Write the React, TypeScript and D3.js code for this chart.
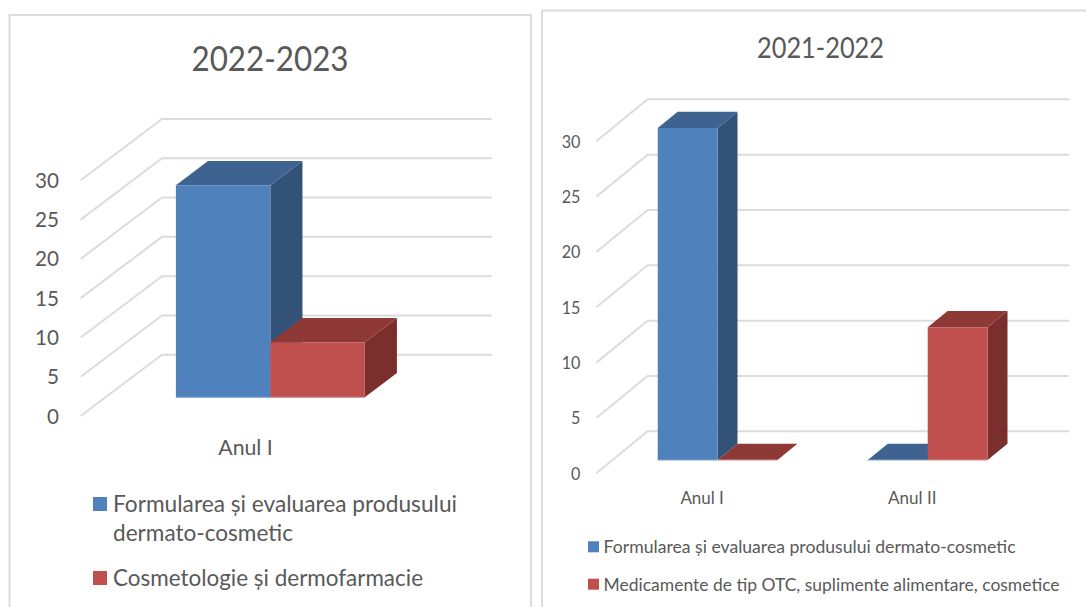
import React from "react";
import * as d3 from "d3";

// ---------- data ----------
const ticks = [0, 5, 10, 15, 20, 25, 30];

const leftTitle = "2022-2023";
const leftCategories = ["Anul I"];
const leftSeriesNames = ["Formularea și evaluarea produsului dermato-cosmetic", "Cosmetologie și dermofarmacie"];
const leftBlue = [27];
const leftRed = [7];

const rightTitle = "2021-2022";
const rightCategories = ["Anul I", "Anul II"];
const rightSeriesNames = ["Formularea și evaluarea produsului dermato-cosmetic", "Medicamente de tip OTC, suplimente alimentare, cosmetice"];
const rightBlue = [30, 0];
const rightRed = [0, 12];

// ---------- style ----------
const FONT = "Lato, 'Open Sans', sans-serif";
const TEXT = "#595959";
const GRID = "#dcdcdc";
const BLUE = { front: "#4f81bd", top: "#3e6390", side: "#335278", edge: "#7ea3d0" };
const RED = { front: "#c0504d", top: "#8f3937", side: "#7b2f2d", edge: "#d58f8d" };

type LegendRow = { swatchY: number; lines: { text: string; baseline: number; width: number }[] };
type Cfg = {
  title: string; titleX: number; titleY: number; titleSize: number; titleW: number;
  categories: string[]; blue: number[]; red: number[];
  x0: number; x1: number; bandX1: number; y0: number; y30: number; dx: number; dy: number;
  z0: number; z1: number; gap: number;
  tickX: number; tickSize: number; tickDy: number; tickW: number;
  catY: number; catSize: number; catWidths: number[]; catShift: number;
  legendSize: number; swatchX: number; swatchS: number; legendX: number; legend: LegendRow[];
};

const leftCfg: Cfg = {
  title: leftTitle, titleX: 270, titleY: 70.5, titleSize: 35, titleW: 157,
  categories: leftCategories, blue: leftBlue, red: leftRed,
  x0: 80.7, x1: 410.4, bandX1: 410.4, y0: 416, y30: 180.3, dx: 81.3, dy: 61.3,
  z0: 0.305, z1: 0.7, gap: 0.427,
  tickX: 59, tickSize: 22, tickDy: 7.5, tickW: 24,
  catY: 454.7, catSize: 21.5, catWidths: [54.5], catShift: 0,
  legendSize: 22.5, swatchX: 93, swatchS: 14, legendX: 113,
  legend: [
    { swatchY: 497, lines: [
      { text: "Formularea și evaluarea produsului", baseline: 511.7, width: 344 },
      { text: "dermato-cosmetic", baseline: 541, width: 180 },
    ] },
    { swatchY: 571, lines: [{ text: leftSeriesNames[1], baseline: 585.7, width: 310 }] },
  ],
};

const rightCfg: Cfg = {
  title: rightTitle, titleX: 820.5, titleY: 58.3, titleSize: 28, titleW: 127,
  categories: rightCategories, blue: rightBlue, red: rightRed,
  x0: 596.3, x1: 1018, bandX1: 1016.5, y0: 473.3, y30: 141.3, dx: 51.3, dy: 42,
  z0: 0.317, z1: 0.705, gap: 0.43,
  tickX: 580.4, tickSize: 18, tickDy: 6.2, tickW: 18.7,
  catY: 504, catSize: 17, catWidths: [43.5, 48.5], catShift: 0.8,
  legendSize: 17.5, swatchX: 588, swatchS: 11, legendX: 603.6,
  legend: [
    { swatchY: 541.3, lines: [{ text: rightSeriesNames[0], baseline: 553, width: 412 }] },
    { swatchY: 578.7, lines: [{ text: rightSeriesNames[1], baseline: 590.7, width: 456 }] },
  ],
};

function Chart3D({ c }: { c: Cfg }) {
  const y = d3.scaleLinear().domain([0, 30]).range([c.y0, c.y30]);
  const band = d3.scaleBand<string>().domain(c.categories).range([c.x0, c.bandX1])
    .paddingInner(c.gap).paddingOuter(c.gap / 2);
  const sub = d3.scaleBand<string>().domain(["blue", "red"]).range([0, band.bandwidth()]);

  const pt = (x: number, v: number, z: number): [number, number] => [x + z * c.dx, y(v) - z * c.dy];
  const poly = (pts: [number, number][]) => pts.map((p) => p.join(",")).join(" ");
  const line = d3.line();

  const bar = (cat: string, key: string, v: number, col: typeof BLUE) => {
    const xa = (band(cat) as number) + (sub(key) as number);
    const xb = xa + sub.bandwidth();
    const { z0, z1 } = c;
    return (
      <g key={cat + key}>
        {v > 0 && <polygon points={poly([pt(xb, 0, z0), pt(xb, 0, z1), pt(xb, v, z1), pt(xb, v, z0)])} fill={col.side} />}
        <polygon points={poly([pt(xa, v, z0), pt(xb, v, z0), pt(xb, v, z1), pt(xa, v, z1)])} fill={col.top} />
        {v > 0 && <polygon points={poly([pt(xa, 0, z0), pt(xb, 0, z0), pt(xb, v, z0), pt(xa, v, z0)])} fill={col.front} />}
        <line x1={pt(xa, 0, z0)[0]} x2={pt(xb, 0, z0)[0]} y1={pt(xa, 0, z0)[1]} y2={pt(xb, 0, z0)[1]} stroke={col.edge} strokeWidth={1} />
      </g>
    );
  };

  return (
    <g fontFamily={FONT} fill={TEXT}>
      <text x={c.titleX} y={c.titleY} fontSize={c.titleSize} textAnchor="middle" textLength={c.titleW} lengthAdjust="spacingAndGlyphs">{c.title}</text>
      {ticks.map((t) => (
        <g key={t}>
          <path
            d={line([pt(c.x0, t, 0), pt(c.x0, t, 1), pt(c.x1, t, 1)]) as string}
            fill="none" stroke={GRID} strokeWidth={2}
          />
          <text x={c.tickX} y={y(t) + c.tickDy} fontSize={c.tickSize} textAnchor="end"
            textLength={(c.tickW * String(t).length) / 2} lengthAdjust="spacingAndGlyphs">{t}</text>
        </g>
      ))}
      {c.categories.map((cat, i) => bar(cat, "blue", c.blue[i], BLUE))}
      {c.categories.map((cat, i) => bar(cat, "red", c.red[i], RED))}
      {c.categories.map((cat, i) => (
        <text key={cat} x={(band(cat) as number) + band.bandwidth() / 2 + c.catShift} y={c.catY} fontSize={c.catSize}
          textAnchor="middle" textLength={c.catWidths[i]} lengthAdjust="spacingAndGlyphs">{cat}</text>
      ))}
      {c.legend.map((row, i) => (
        <g key={i}>
          <rect x={c.swatchX} y={row.swatchY} width={c.swatchS} height={c.swatchS} fill={i === 0 ? BLUE.front : RED.front} />
          {row.lines.map((l) => (
            <text key={l.text} x={c.legendX} y={l.baseline} fontSize={c.legendSize} textLength={l.width} lengthAdjust="spacingAndGlyphs">{l.text}</text>
          ))}
        </g>
      ))}
    </g>
  );
}

export default function App() {
  return (
    <svg width={1086} height={607} viewBox="0 0 1086 607" style={{ position: "absolute", left: 0, top: 0, display: "block", background: "#fff" }}>
      <path d="M9.5,607 V15 H531 V607" fill="none" stroke="#dcdcdc" strokeWidth={2} />
      <path d="M542,607 V10.5 H1086" fill="none" stroke="#dcdcdc" strokeWidth={2} />
      <Chart3D c={leftCfg} />
      <Chart3D c={rightCfg} />
    </svg>
  );
}
